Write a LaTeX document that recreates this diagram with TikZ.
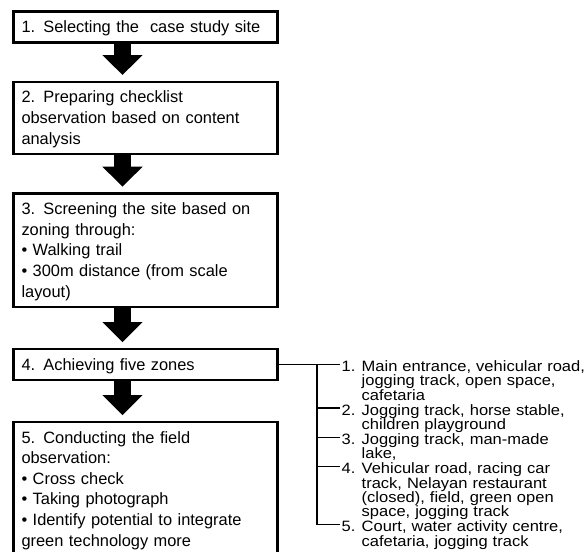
\documentclass[tikz,border=0pt]{standalone}
\usepackage{fontspec}
\setmainfont{Liberation Sans}
\newfontfamily\listfont[FakeStretch=1.1]{Liberation Sans}
\usetikzlibrary{positioning,arrows.meta}

\begin{document}
\begin{tikzpicture}[
x=1pt, y=1pt,
node distance=37pt,
stage/.style={draw=black, line width=2.5pt, text width=248pt, align=left, inner xsep=8pt, inner ysep=5pt, font=\fontsize{16.4}{20.6}\selectfont, execute at begin node={\rule{0pt}{16.2pt}}, execute at end node={\rule[-4.8pt]{0pt}{0pt}}},
flow/.style={line width=17pt, -{Triangle[width=39pt,length=20pt]}},
zone/.style={inner sep=0pt, text width=250pt, align=left, font=\listfont\fontsize{15}{14.4}\selectfont, execute at begin node={\lineskiplimit=-10pt\rule{0pt}{10.8pt}}, execute at end node={\rule[-3.6pt]{0pt}{0pt}}},
link/.style={line width=1.2pt}
]
\useasboundingbox (0,0) rectangle (587,-552);
\node[stage, anchor=north] (b1) at (145.5,-10) {1. Selecting the~ case study site};
\node[stage, below=of b1] (b2) {2. Preparing checklist\\observation based on content\\analysis};
\node[stage, below=of b2] (b3) {3. Screening the site based on\\zoning through:\\• Walking trail\\• 300m distance (from scale\\layout)};
\node[stage, below=39.5pt of b3] (b4) {4. Achieving five zones};
\node[stage, below=39.5pt of b4] (b5) {5. Conducting the field\\observation:\\• Cross check\\• Taking photograph\\• Identify potential to integrate\\green technology more};
\foreach \a/\b in {b1/b2,b2/b3,b3/b4,b4/b5}
  \draw[flow] ([xshift=-23pt]\a.south) -- ([xshift=-23pt,yshift=5.5pt]\b.north);
% zones found on site
\node[zone, anchor=north west] (z1) at ([xshift=62.75pt,yshift=4pt]b4.east) {\makebox[20pt][l]{1.}Main entrance, vehicular road,\\\hspace*{20pt}jogging track, open space,\\\hspace*{20pt}cafetaria};
\node[zone, below=0pt of z1.south west, anchor=north west] (z2) {\makebox[20pt][l]{2.}Jogging track, horse stable,\\\hspace*{20pt}children playground};
\node[zone, below=0pt of z2.south west, anchor=north west] (z3) {\makebox[20pt][l]{3.}Jogging track, man-made\\\hspace*{20pt}lake,};
\node[zone, below=0pt of z3.south west, anchor=north west] (z4) {\makebox[20pt][l]{4.}Vehicular road, racing car\\\hspace*{20pt}track, Nelayan restaurant\\\hspace*{20pt}(closed), field, green open\\\hspace*{20pt}space, jogging track};
\node[zone, below=0pt of z4.south west, anchor=north west] (z5) {\makebox[20pt][l]{5.}Court, water activity centre,\\\hspace*{20pt}cafetaria, jogging track};
\foreach \i in {1,...,5}
  \coordinate (t\i) at ([xshift=-2pt,yshift=-4pt]z\i.north west);
\coordinate (br) at ([xshift=38.25pt]b4.east);
\draw[link] (b4.east) -- (t1);
\draw[link] (br) |- (t5);
\foreach \i in {2,3,4}
  \draw[link] (br |- t\i) -- (t\i);
\end{tikzpicture}
\end{document}
